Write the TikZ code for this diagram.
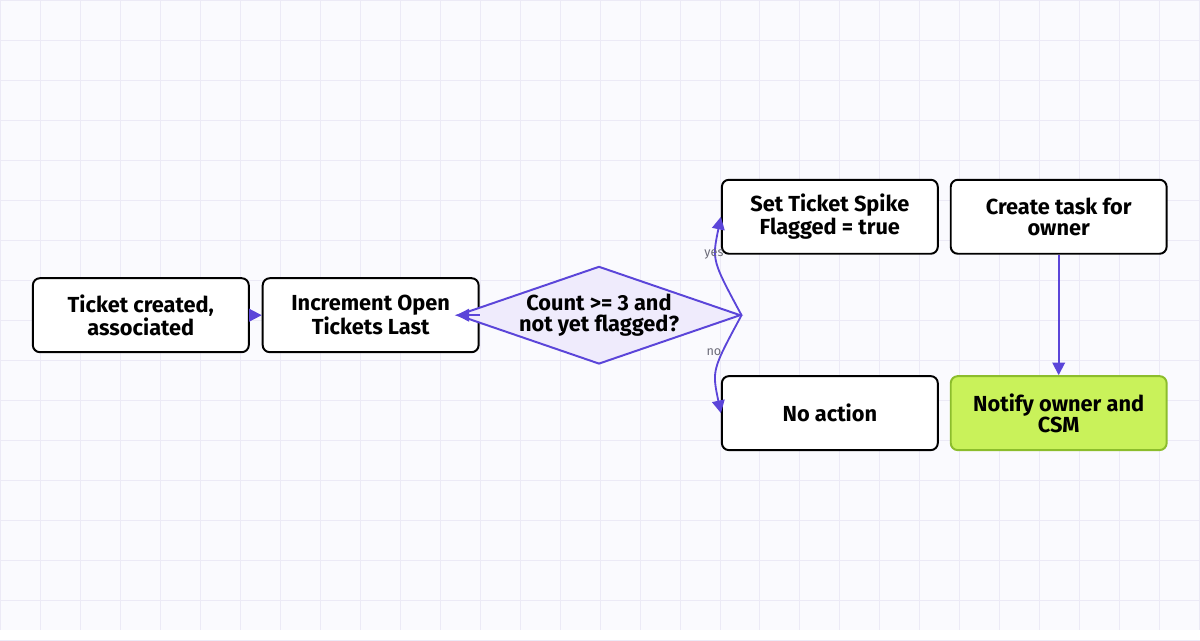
\documentclass[tikz,border=0pt]{standalone}
\usepackage{fontspec}
\setmainfont{Fira Sans}
\usetikzlibrary{positioning}
\usetikzlibrary{shapes.geometric}
\usetikzlibrary{arrows.meta}
\definecolor{flowline}{HTML}{5B45D9}
\definecolor{gridline}{HTML}{ECEAF6}
\definecolor{paper}{HTML}{FAFAFE}
\definecolor{diafill}{HTML}{EFEBFC}
\definecolor{notegreen}{HTML}{C9F25A}
\definecolor{noteedge}{HTML}{8CBD2C}
\definecolor{labelgrey}{HTML}{6B6B78}

\begin{document}
\begin{tikzpicture}[
  x=0.025cm, y=-0.025cm,
  font=\fontsize{15.5}{15}\selectfont\bfseries,
  stepbox/.style={draw=black, line width=1.4pt, rounded corners=5pt, fill=white,
    minimum width=5.4cm, minimum height=1.85cm, align=center, inner sep=2pt},
  decision/.style={diamond, draw=flowline, line width=1.4pt, fill=diafill, aspect=2.9,
    minimum width=5.8cm, minimum height=2cm, inner sep=0pt, align=center},
  flow/.style={draw=flowline, line width=1.3pt, -{Triangle[length=9pt, width=9pt]}},
  branch/.style={font=\fontsize{9}{9}\selectfont, text=labelgrey, inner sep=1pt}
]
% Background grid
\fill[paper] (0,0) rectangle (1200,630);
\foreach \gx in {0,40,...,1200} \draw[gridline, line width=0.6pt] (\gx,0) -- (\gx,630);
\foreach \gy in {0,40,...,640} \draw[gridline, line width=0.6pt] (0,\gy) -- (1200,\gy);
\useasboundingbox (0,0) rectangle (1200,630);

% Steps
\node[stepbox] (created) at (140.5,315) {Ticket created,\\associated};
\node[stepbox] (increment) at (370.5,315) {Increment Open\\Tickets Last};
\node[decision] (check) at (599,315) {Count >= 3 and\\not yet flagged?};
\node[stepbox] (flagset) at (830,216.5) {Set Ticket Spike\\Flagged = true};
\node[stepbox] (task) at (1059,216.5) {Create task for\\owner};
\node[stepbox] (noaction) at (830,413) {No action};
\node[stepbox, draw=noteedge, fill=notegreen] (notify) at (1059,413) {Notify owner and\\CSM};

% Connectors
\draw[flow] (created) -- (increment);
\draw[flow] (increment) -- (check);
\draw[flow] (check.east) .. controls (712,260) .. (flagset.west);
\draw[flow] (check.east) .. controls (712,370) .. (noaction.west);
\draw[flow] (task) -- (notify);

% Branch labels
\node[branch] (yeslbl) at (714,254) {yes};
\node[branch] (nolbl) at (714,352) {no};
\end{tikzpicture}
\end{document}
